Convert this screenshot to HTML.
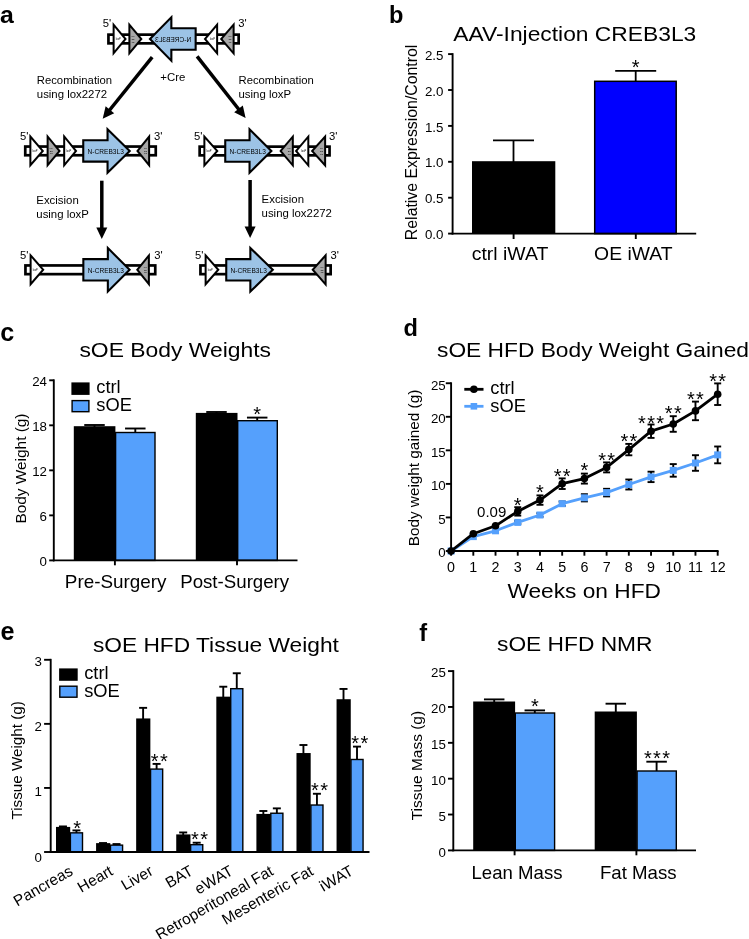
<!DOCTYPE html>
<html lang="en"><head><meta charset="utf-8"><title>Figure</title>
<style>html,body{margin:0;padding:0;background:#fff;}body{width:749px;height:939px;overflow:hidden;font-family:"Liberation Sans",sans-serif;}svg{display:block;will-change:transform;}text{font-family:"Liberation Sans",sans-serif;fill:#000;}</style>
</head><body>
<svg width="749" height="939" viewBox="0 0 749 939">
<rect x="0" y="0" width="749" height="939" fill="#fff"/>
<g id="panel-a">
<text x="0.0" y="22.8" font-size="24.8" text-anchor="start" font-weight="bold">a</text>
<rect x="108.45" y="34.65" width="130.20" height="8.70" fill="#fff" stroke="#000" stroke-width="2.7"/>
<polygon points="112.60,21.90 126.80,39.00 112.60,56.10" fill="#000"/>
<polygon points="114.60,27.44 124.20,39.00 114.60,50.56" fill="#fff"/>
<text x="118.20" y="39.90" font-size="2.6" text-anchor="middle" fill="#333">loxP</text>
<polygon points="128.40,21.90 142.60,39.00 128.40,56.10" fill="#000"/>
<polygon points="130.40,27.44 140.00,39.00 130.40,50.56" fill="#A8A8A8"/>
<g transform="translate(133.00,39.00)" fill="#3a3a3a" font-size="2.5" text-anchor="middle"><text x="0" y="-1.9">lox</text><text x="0" y="0.8">22</text><text x="0" y="3.5">72</text></g>
<polygon points="196.70,27.25 172.40,27.25 172.40,14.75 148.50,39.00 172.40,63.25 172.40,50.75 196.70,50.75" fill="#000"/>
<polygon points="194.60,29.35 170.30,29.35 170.30,19.87 151.45,39.00 170.30,58.13 170.30,48.65 194.60,48.65" fill="#9CC3E6"/>
<text transform="translate(173.20,42.00) scale(-1,1)" font-size="7" text-anchor="middle" textLength="36.2" lengthAdjust="spacingAndGlyphs" fill="#1c2e44">N-CREB3L3</text>
<polygon points="218.10,21.90 203.70,39.00 218.10,56.10" fill="#000"/>
<polygon points="216.10,27.38 206.31,39.00 216.10,50.62" fill="#fff"/>
<text x="212.50" y="39.90" font-size="2.6" text-anchor="middle" fill="#333">loxP</text>
<polygon points="234.60,21.90 219.90,39.00 234.60,56.10" fill="#000"/>
<polygon points="232.60,27.29 222.54,39.00 232.60,50.71" fill="#A8A8A8"/>
<g transform="translate(230.00,39.00)" fill="#3a3a3a" font-size="2.5" text-anchor="middle"><text x="0" y="-1.9">lox</text><text x="0" y="0.8">22</text><text x="0" y="3.5">72</text></g>
<text x="102.8" y="27.2" font-size="10.3" text-anchor="start" textLength="8.4" lengthAdjust="spacingAndGlyphs">5'</text>
<text x="238.2" y="27.2" font-size="10.3" text-anchor="start" textLength="8.4" lengthAdjust="spacingAndGlyphs">3'</text>
<rect x="25.25" y="146.55" width="130.50" height="8.70" fill="#fff" stroke="#000" stroke-width="2.7"/>
<polygon points="29.35,133.80 44.10,150.90 29.35,168.00" fill="#000"/>
<polygon points="31.35,139.18 41.46,150.90 31.35,162.62" fill="#fff"/>
<text x="34.95" y="151.80" font-size="2.6" text-anchor="middle" fill="#333">loxP</text>
<polygon points="46.60,133.80 60.80,150.90 46.60,168.00" fill="#000"/>
<polygon points="48.60,139.34 58.20,150.90 48.60,162.46" fill="#A8A8A8"/>
<g transform="translate(51.20,150.90)" fill="#3a3a3a" font-size="2.5" text-anchor="middle"><text x="0" y="-1.9">lox</text><text x="0" y="0.8">22</text><text x="0" y="3.5">72</text></g>
<polygon points="63.20,133.80 77.30,150.90 63.20,168.00" fill="#000"/>
<polygon points="65.20,139.37 74.71,150.90 65.20,162.43" fill="#fff"/>
<text x="68.80" y="151.80" font-size="2.6" text-anchor="middle" fill="#333">loxP</text>
<polygon points="82.20,139.15 106.50,139.15 106.50,126.65 131.20,150.90 106.50,175.15 106.50,162.65 82.20,162.65" fill="#000"/>
<polygon points="84.30,141.25 108.60,141.25 108.60,131.65 128.20,150.90 108.60,170.15 108.60,160.55 84.30,160.55" fill="#9CC3E6"/>
<text x="105.70" y="153.90" font-size="7" text-anchor="middle" textLength="36.2" lengthAdjust="spacingAndGlyphs" fill="#1c2e44">N-CREB3L3</text>
<polygon points="150.10,133.80 136.20,150.90 150.10,168.00" fill="#000"/>
<polygon points="148.10,139.43 138.78,150.90 148.10,162.37" fill="#A8A8A8"/>
<g transform="translate(145.50,150.90)" fill="#3a3a3a" font-size="2.5" text-anchor="middle"><text x="0" y="-1.9">lox</text><text x="0" y="0.8">22</text><text x="0" y="3.5">72</text></g>
<text x="20.0" y="139.8" font-size="10.3" text-anchor="start" textLength="8.4" lengthAdjust="spacingAndGlyphs">5'</text>
<text x="154.1" y="139.8" font-size="10.3" text-anchor="start" textLength="8.4" lengthAdjust="spacingAndGlyphs">3'</text>
<rect x="199.65" y="146.65" width="129.90" height="8.70" fill="#fff" stroke="#000" stroke-width="2.7"/>
<polygon points="203.40,133.90 218.60,151.00 203.40,168.10" fill="#000"/>
<polygon points="205.40,139.16 215.92,151.00 205.40,162.84" fill="#fff"/>
<text x="209.00" y="151.90" font-size="2.6" text-anchor="middle" fill="#333">loxP</text>
<polygon points="224.20,139.25 248.50,139.25 248.50,126.75 272.90,151.00 248.50,175.25 248.50,162.75 224.20,162.75" fill="#000"/>
<polygon points="226.30,141.35 250.60,141.35 250.60,131.80 269.92,151.00 250.60,170.20 250.60,160.65 226.30,160.65" fill="#9CC3E6"/>
<text x="247.70" y="154.00" font-size="7" text-anchor="middle" textLength="36.2" lengthAdjust="spacingAndGlyphs" fill="#1c2e44">N-CREB3L3</text>
<polygon points="293.80,133.90 279.30,151.00 293.80,168.10" fill="#000"/>
<polygon points="291.80,139.35 281.92,151.00 291.80,162.65" fill="#A8A8A8"/>
<g transform="translate(289.20,151.00)" fill="#3a3a3a" font-size="2.5" text-anchor="middle"><text x="0" y="-1.9">lox</text><text x="0" y="0.8">22</text><text x="0" y="3.5">72</text></g>
<polygon points="309.30,133.90 294.80,151.00 309.30,168.10" fill="#000"/>
<polygon points="307.30,139.35 297.42,151.00 307.30,162.65" fill="#fff"/>
<text x="303.70" y="151.90" font-size="2.6" text-anchor="middle" fill="#333">loxP</text>
<polygon points="326.10,133.90 310.80,151.00 326.10,168.10" fill="#000"/>
<polygon points="324.10,139.13 313.48,151.00 324.10,162.87" fill="#A8A8A8"/>
<g transform="translate(321.50,151.00)" fill="#3a3a3a" font-size="2.5" text-anchor="middle"><text x="0" y="-1.9">lox</text><text x="0" y="0.8">22</text><text x="0" y="3.5">72</text></g>
<text x="193.9" y="139.8" font-size="10.3" text-anchor="start" textLength="8.4" lengthAdjust="spacingAndGlyphs">5'</text>
<text x="329.1" y="139.8" font-size="10.3" text-anchor="start" textLength="8.4" lengthAdjust="spacingAndGlyphs">3'</text>
<rect x="25.45" y="265.45" width="129.80" height="8.70" fill="#fff" stroke="#000" stroke-width="2.7"/>
<polygon points="29.60,252.70 44.50,269.80 29.60,286.90" fill="#000"/>
<polygon points="31.60,258.04 41.85,269.80 31.60,281.56" fill="#fff"/>
<text x="35.20" y="270.70" font-size="2.6" text-anchor="middle" fill="#333">loxP</text>
<polygon points="82.30,258.05 106.80,258.05 106.80,245.55 131.10,269.80 106.80,294.05 106.80,281.55 82.30,281.55" fill="#000"/>
<polygon points="84.40,260.15 108.90,260.15 108.90,250.61 128.13,269.80 108.90,288.99 108.90,279.45 84.40,279.45" fill="#9CC3E6"/>
<text x="105.80" y="272.80" font-size="7" text-anchor="middle" textLength="36.2" lengthAdjust="spacingAndGlyphs" fill="#1c2e44">N-CREB3L3</text>
<polygon points="149.90,252.70 136.00,269.80 149.90,286.90" fill="#000"/>
<polygon points="147.90,258.33 138.58,269.80 147.90,281.27" fill="#A8A8A8"/>
<g transform="translate(145.30,269.80)" fill="#3a3a3a" font-size="2.5" text-anchor="middle"><text x="0" y="-1.9">lox</text><text x="0" y="0.8">22</text><text x="0" y="3.5">72</text></g>
<text x="19.9" y="258.8" font-size="10.3" text-anchor="start" textLength="8.4" lengthAdjust="spacingAndGlyphs">5'</text>
<text x="154.2" y="258.8" font-size="10.3" text-anchor="start" textLength="8.4" lengthAdjust="spacingAndGlyphs">3'</text>
<rect x="200.45" y="265.45" width="130.20" height="8.70" fill="#fff" stroke="#000" stroke-width="2.7"/>
<polygon points="204.60,252.70 219.60,269.80 204.60,286.90" fill="#000"/>
<polygon points="206.60,258.01 216.94,269.80 206.60,281.59" fill="#fff"/>
<text x="210.20" y="270.70" font-size="2.6" text-anchor="middle" fill="#333">loxP</text>
<polygon points="225.20,258.05 249.30,258.05 249.30,245.55 274.30,269.80 249.30,294.05 249.30,281.55 225.20,281.55" fill="#000"/>
<polygon points="227.30,260.15 251.40,260.15 251.40,250.51 271.28,269.80 251.40,289.09 251.40,279.45 227.30,279.45" fill="#9CC3E6"/>
<text x="248.70" y="272.80" font-size="7" text-anchor="middle" textLength="36.2" lengthAdjust="spacingAndGlyphs" fill="#1c2e44">N-CREB3L3</text>
<polygon points="326.60,252.70 311.40,269.80 326.60,286.90" fill="#000"/>
<polygon points="324.60,257.96 314.08,269.80 324.60,281.64" fill="#A8A8A8"/>
<g transform="translate(322.00,269.80)" fill="#3a3a3a" font-size="2.5" text-anchor="middle"><text x="0" y="-1.9">lox</text><text x="0" y="0.8">22</text><text x="0" y="3.5">72</text></g>
<text x="194.9" y="258.8" font-size="10.3" text-anchor="start" textLength="8.4" lengthAdjust="spacingAndGlyphs">5'</text>
<text x="330.4" y="258.8" font-size="10.3" text-anchor="start" textLength="8.4" lengthAdjust="spacingAndGlyphs">3'</text>
<line x1="152.20" y1="57.10" x2="109.28" y2="110.52" stroke="#000" stroke-width="3.5" stroke-linecap="butt"/>
<polygon points="102.70,118.70 105.62,106.29 114.19,113.18" fill="#000"/>
<line x1="197.10" y1="56.30" x2="239.11" y2="109.75" stroke="#000" stroke-width="3.5" stroke-linecap="butt"/>
<polygon points="245.60,118.00 234.17,112.36 242.82,105.56" fill="#000"/>
<line x1="101.80" y1="180.70" x2="101.80" y2="228.40" stroke="#000" stroke-width="3.5" stroke-linecap="butt"/>
<polygon points="101.80,238.90 96.30,227.40 107.30,227.40" fill="#000"/>
<line x1="250.10" y1="180.00" x2="250.10" y2="227.50" stroke="#000" stroke-width="3.5" stroke-linecap="butt"/>
<polygon points="250.10,238.00 244.60,226.50 255.60,226.50" fill="#000"/>
<text x="36.8" y="84.2" font-size="11.4" text-anchor="start" textLength="75.3" lengthAdjust="spacingAndGlyphs">Recombination</text>
<text x="36.8" y="98.1" font-size="11.4" text-anchor="start">using lox2272</text>
<text x="160.3" y="80.5" font-size="11.4" text-anchor="start">+Cre</text>
<text x="238.5" y="84.2" font-size="11.4" text-anchor="start" textLength="75.3" lengthAdjust="spacingAndGlyphs">Recombination</text>
<text x="238.5" y="98.1" font-size="11.4" text-anchor="start">using loxP</text>
<text x="36.3" y="203.7" font-size="11.4" text-anchor="start">Excision</text>
<text x="36.3" y="217.6" font-size="11.4" text-anchor="start">using loxP</text>
<text x="261.6" y="203.2" font-size="11.4" text-anchor="start">Excision</text>
<text x="261.6" y="217.1" font-size="11.4" text-anchor="start">using lox2272</text>
</g>
<g id="panel-b">
<text x="388.9" y="22.7" font-size="23.6" text-anchor="start" font-weight="bold">b</text>
<text x="453.3" y="40.8" font-size="21" text-anchor="start" textLength="243" lengthAdjust="spacingAndGlyphs">AAV-Injection CREB3L3</text>
<rect x="472.00" y="161.20" width="83.30" height="72.40" fill="#000"/>
<rect x="594.70" y="81.30" width="81.50" height="152.30" fill="#0000FF" stroke="#000" stroke-width="1.5"/>
<line x1="513.5" y1="140.4" x2="513.5" y2="162" stroke="#000" stroke-width="1.8" stroke-linecap="butt"/>
<line x1="493.0" y1="140.4" x2="534.0" y2="140.4" stroke="#000" stroke-width="1.8" stroke-linecap="butt"/>
<line x1="635.7" y1="70.8" x2="635.7" y2="81" stroke="#000" stroke-width="1.8" stroke-linecap="butt"/>
<line x1="615.2" y1="70.8" x2="656.2" y2="70.8" stroke="#000" stroke-width="1.8" stroke-linecap="butt"/>
<line x1="452.6" y1="53.15" x2="452.6" y2="234.54999999999998" stroke="#000" stroke-width="1.9" stroke-linecap="butt"/>
<line x1="448.1" y1="233.6" x2="452.6" y2="233.6" stroke="#000" stroke-width="1.9" stroke-linecap="butt"/>
<text x="443.40" y="238.96" font-size="13.3" text-anchor="end">0.0</text>
<line x1="448.1" y1="197.7" x2="452.6" y2="197.7" stroke="#000" stroke-width="1.9" stroke-linecap="butt"/>
<text x="443.40" y="203.16" font-size="13.3" text-anchor="end">0.5</text>
<line x1="448.1" y1="161.8" x2="452.6" y2="161.8" stroke="#000" stroke-width="1.9" stroke-linecap="butt"/>
<text x="443.40" y="167.36" font-size="13.3" text-anchor="end">1.0</text>
<line x1="448.1" y1="125.89999999999999" x2="452.6" y2="125.89999999999999" stroke="#000" stroke-width="1.9" stroke-linecap="butt"/>
<text x="443.40" y="131.56" font-size="13.3" text-anchor="end">1.5</text>
<line x1="448.1" y1="90.0" x2="452.6" y2="90.0" stroke="#000" stroke-width="1.9" stroke-linecap="butt"/>
<text x="443.40" y="95.76" font-size="13.3" text-anchor="end">2.0</text>
<line x1="448.1" y1="54.099999999999994" x2="452.6" y2="54.099999999999994" stroke="#000" stroke-width="1.9" stroke-linecap="butt"/>
<text x="443.40" y="59.66" font-size="13.3" text-anchor="end">2.5</text>
<line x1="513.6" y1="233.6" x2="513.6" y2="239.0" stroke="#000" stroke-width="1.9" stroke-linecap="butt"/>
<line x1="635.8" y1="233.6" x2="635.8" y2="239.0" stroke="#000" stroke-width="1.9" stroke-linecap="butt"/>
<line x1="451.70000000000005" y1="233.6" x2="696.2" y2="233.6" stroke="#000" stroke-width="1.8" stroke-linecap="butt"/>
<text x="635.70" y="73.75" font-size="20.0" text-anchor="middle">*</text>
<text x="510.0" y="259.5" font-size="18.1" text-anchor="middle" textLength="76.6" lengthAdjust="spacingAndGlyphs">ctrl iWAT</text>
<text x="633.3" y="259.5" font-size="18.1" text-anchor="middle" textLength="78.4" lengthAdjust="spacingAndGlyphs">OE iWAT</text>
<text transform="translate(416.8,142.4) rotate(-90)" font-size="15.6" text-anchor="middle" textLength="195.5" lengthAdjust="spacingAndGlyphs">Relative Expression/Control</text>
</g>
<g id="panel-c">
<text x="0.3" y="340.8" font-size="25.2" text-anchor="start" font-weight="bold">c</text>
<text x="79.4" y="356.5" font-size="21" text-anchor="start" textLength="191.6" lengthAdjust="spacingAndGlyphs">sOE Body Weights</text>
<rect x="73.80" y="426.20" width="41.60" height="134.20" fill="#000"/>
<rect x="115.60" y="432.50" width="39.40" height="127.90" fill="#55A0FC" stroke="#000" stroke-width="1.4"/>
<rect x="195.80" y="412.90" width="41.70" height="147.50" fill="#000"/>
<rect x="237.70" y="420.70" width="39.60" height="139.70" fill="#55A0FC" stroke="#000" stroke-width="1.4"/>
<line x1="94.5" y1="425.0" x2="94.5" y2="427" stroke="#000" stroke-width="1.9" stroke-linecap="butt"/>
<line x1="84.25" y1="425.0" x2="104.75" y2="425.0" stroke="#000" stroke-width="1.9" stroke-linecap="butt"/>
<line x1="135.3" y1="428.5" x2="135.3" y2="432" stroke="#000" stroke-width="1.9" stroke-linecap="butt"/>
<line x1="125.05000000000001" y1="428.5" x2="145.55" y2="428.5" stroke="#000" stroke-width="1.9" stroke-linecap="butt"/>
<line x1="216.5" y1="412.0" x2="216.5" y2="414" stroke="#000" stroke-width="1.9" stroke-linecap="butt"/>
<line x1="206.25" y1="412.0" x2="226.75" y2="412.0" stroke="#000" stroke-width="1.9" stroke-linecap="butt"/>
<line x1="257.2" y1="417.6" x2="257.2" y2="420.5" stroke="#000" stroke-width="1.9" stroke-linecap="butt"/>
<line x1="246.95" y1="417.6" x2="267.45" y2="417.6" stroke="#000" stroke-width="1.9" stroke-linecap="butt"/>
<line x1="53.8" y1="379.35" x2="53.8" y2="561.35" stroke="#000" stroke-width="1.9" stroke-linecap="butt"/>
<line x1="49.199999999999996" y1="560.4" x2="53.8" y2="560.4" stroke="#000" stroke-width="1.9" stroke-linecap="butt"/>
<text x="47.00" y="566.16" font-size="13.3" text-anchor="end">0</text>
<line x1="49.199999999999996" y1="515.375" x2="53.8" y2="515.375" stroke="#000" stroke-width="1.9" stroke-linecap="butt"/>
<text x="47.00" y="521.14" font-size="13.3" text-anchor="end">6</text>
<line x1="49.199999999999996" y1="470.35" x2="53.8" y2="470.35" stroke="#000" stroke-width="1.9" stroke-linecap="butt"/>
<text x="47.00" y="476.11" font-size="13.3" text-anchor="end">12</text>
<line x1="49.199999999999996" y1="425.325" x2="53.8" y2="425.325" stroke="#000" stroke-width="1.9" stroke-linecap="butt"/>
<text x="47.00" y="431.09" font-size="13.3" text-anchor="end">18</text>
<line x1="49.199999999999996" y1="380.3" x2="53.8" y2="380.3" stroke="#000" stroke-width="1.9" stroke-linecap="butt"/>
<text x="47.00" y="386.06" font-size="13.3" text-anchor="end">24</text>
<line x1="52.9" y1="560.4" x2="297.5" y2="560.4" stroke="#000" stroke-width="1.8" stroke-linecap="butt"/>
<line x1="114.9" y1="560.4" x2="114.9" y2="565.3" stroke="#000" stroke-width="1.9" stroke-linecap="butt"/>
<line x1="237.0" y1="560.4" x2="237.0" y2="565.3" stroke="#000" stroke-width="1.9" stroke-linecap="butt"/>
<rect x="71.40" y="382.40" width="18.20" height="12.50" fill="#000"/>
<rect x="72.10" y="400.60" width="16.80" height="11.10" fill="#55A0FC" stroke="#000" stroke-width="1.4"/>
<text x="96.3" y="393.1" font-size="18.3" text-anchor="start">ctrl</text>
<text x="96.3" y="411.3" font-size="18.3" text-anchor="start">sOE</text>
<text x="257.20" y="420.75" font-size="20.0" text-anchor="middle">*</text>
<text x="115.7" y="587.6" font-size="17.8" text-anchor="middle" textLength="101.7" lengthAdjust="spacingAndGlyphs">Pre-Surgery</text>
<text x="234.7" y="587.6" font-size="17.8" text-anchor="middle" textLength="109" lengthAdjust="spacingAndGlyphs">Post-Surgery</text>
<text transform="translate(25.8,468.5) rotate(-90)" font-size="15.3" text-anchor="middle" textLength="110" lengthAdjust="spacingAndGlyphs">Body Weight (g)</text>
</g>
<g id="panel-d">
<text x="403.6" y="336.3" font-size="23.6" text-anchor="start" font-weight="bold">d</text>
<text x="437.0" y="357.0" font-size="21" text-anchor="start" textLength="312" lengthAdjust="spacingAndGlyphs">sOE HFD Body Weight Gained</text>
<line x1="517.745" y1="520.9" x2="517.745" y2="522.4" stroke="#000" stroke-width="1.9" stroke-linecap="butt"/>
<line x1="514.245" y1="520.9" x2="521.245" y2="520.9" stroke="#000" stroke-width="1.9" stroke-linecap="butt"/>
<line x1="517.745" y1="522.4" x2="517.745" y2="523.9" stroke="#000" stroke-width="1.9" stroke-linecap="butt"/>
<line x1="514.245" y1="523.9" x2="521.245" y2="523.9" stroke="#000" stroke-width="1.9" stroke-linecap="butt"/>
<line x1="539.96" y1="513.2" x2="539.96" y2="515.0" stroke="#000" stroke-width="1.9" stroke-linecap="butt"/>
<line x1="536.46" y1="513.2" x2="543.46" y2="513.2" stroke="#000" stroke-width="1.9" stroke-linecap="butt"/>
<line x1="539.96" y1="515.0" x2="539.96" y2="516.8" stroke="#000" stroke-width="1.9" stroke-linecap="butt"/>
<line x1="536.46" y1="516.8" x2="543.46" y2="516.8" stroke="#000" stroke-width="1.9" stroke-linecap="butt"/>
<line x1="562.1750000000001" y1="501.5" x2="562.1750000000001" y2="503.7" stroke="#000" stroke-width="1.9" stroke-linecap="butt"/>
<line x1="558.6750000000001" y1="501.5" x2="565.6750000000001" y2="501.5" stroke="#000" stroke-width="1.9" stroke-linecap="butt"/>
<line x1="562.1750000000001" y1="503.7" x2="562.1750000000001" y2="505.9" stroke="#000" stroke-width="1.9" stroke-linecap="butt"/>
<line x1="558.6750000000001" y1="505.9" x2="565.6750000000001" y2="505.9" stroke="#000" stroke-width="1.9" stroke-linecap="butt"/>
<line x1="584.39" y1="494.2" x2="584.39" y2="497.8" stroke="#000" stroke-width="1.9" stroke-linecap="butt"/>
<line x1="580.89" y1="494.2" x2="587.89" y2="494.2" stroke="#000" stroke-width="1.9" stroke-linecap="butt"/>
<line x1="584.39" y1="497.8" x2="584.39" y2="501.40000000000003" stroke="#000" stroke-width="1.9" stroke-linecap="butt"/>
<line x1="580.89" y1="501.40000000000003" x2="587.89" y2="501.40000000000003" stroke="#000" stroke-width="1.9" stroke-linecap="butt"/>
<line x1="606.605" y1="488.8" x2="606.605" y2="492.6" stroke="#000" stroke-width="1.9" stroke-linecap="butt"/>
<line x1="603.105" y1="488.8" x2="610.105" y2="488.8" stroke="#000" stroke-width="1.9" stroke-linecap="butt"/>
<line x1="606.605" y1="492.6" x2="606.605" y2="496.40000000000003" stroke="#000" stroke-width="1.9" stroke-linecap="butt"/>
<line x1="603.105" y1="496.40000000000003" x2="610.105" y2="496.40000000000003" stroke="#000" stroke-width="1.9" stroke-linecap="butt"/>
<line x1="628.82" y1="479.5" x2="628.82" y2="484.5" stroke="#000" stroke-width="1.9" stroke-linecap="butt"/>
<line x1="625.32" y1="479.5" x2="632.32" y2="479.5" stroke="#000" stroke-width="1.9" stroke-linecap="butt"/>
<line x1="628.82" y1="484.5" x2="628.82" y2="489.5" stroke="#000" stroke-width="1.9" stroke-linecap="butt"/>
<line x1="625.32" y1="489.5" x2="632.32" y2="489.5" stroke="#000" stroke-width="1.9" stroke-linecap="butt"/>
<line x1="651.0350000000001" y1="471.7" x2="651.0350000000001" y2="476.9" stroke="#000" stroke-width="1.9" stroke-linecap="butt"/>
<line x1="647.5350000000001" y1="471.7" x2="654.5350000000001" y2="471.7" stroke="#000" stroke-width="1.9" stroke-linecap="butt"/>
<line x1="651.0350000000001" y1="476.9" x2="651.0350000000001" y2="482.09999999999997" stroke="#000" stroke-width="1.9" stroke-linecap="butt"/>
<line x1="647.5350000000001" y1="482.09999999999997" x2="654.5350000000001" y2="482.09999999999997" stroke="#000" stroke-width="1.9" stroke-linecap="butt"/>
<line x1="673.25" y1="464.09999999999997" x2="673.25" y2="470.4" stroke="#000" stroke-width="1.9" stroke-linecap="butt"/>
<line x1="669.75" y1="464.09999999999997" x2="676.75" y2="464.09999999999997" stroke="#000" stroke-width="1.9" stroke-linecap="butt"/>
<line x1="673.25" y1="470.4" x2="673.25" y2="476.7" stroke="#000" stroke-width="1.9" stroke-linecap="butt"/>
<line x1="669.75" y1="476.7" x2="676.75" y2="476.7" stroke="#000" stroke-width="1.9" stroke-linecap="butt"/>
<line x1="695.465" y1="455.2" x2="695.465" y2="463.0" stroke="#000" stroke-width="1.9" stroke-linecap="butt"/>
<line x1="691.965" y1="455.2" x2="698.965" y2="455.2" stroke="#000" stroke-width="1.9" stroke-linecap="butt"/>
<line x1="695.465" y1="463.0" x2="695.465" y2="470.8" stroke="#000" stroke-width="1.9" stroke-linecap="butt"/>
<line x1="691.965" y1="470.8" x2="698.965" y2="470.8" stroke="#000" stroke-width="1.9" stroke-linecap="butt"/>
<line x1="717.6800000000001" y1="446.5" x2="717.6800000000001" y2="454.9" stroke="#000" stroke-width="1.9" stroke-linecap="butt"/>
<line x1="714.1800000000001" y1="446.5" x2="721.1800000000001" y2="446.5" stroke="#000" stroke-width="1.9" stroke-linecap="butt"/>
<line x1="717.6800000000001" y1="454.9" x2="717.6800000000001" y2="463.29999999999995" stroke="#000" stroke-width="1.9" stroke-linecap="butt"/>
<line x1="714.1800000000001" y1="463.29999999999995" x2="721.1800000000001" y2="463.29999999999995" stroke="#000" stroke-width="1.9" stroke-linecap="butt"/>
<polyline points="451.10,551.00 473.31,536.60 495.53,530.80 517.75,522.40 539.96,515.00 562.18,503.70 584.39,497.80 606.61,492.60 628.82,484.50 651.04,476.90 673.25,470.40 695.47,463.00 717.68,454.90" fill="none" stroke="#55A0FC" stroke-width="2.8" stroke-linejoin="round"/>
<rect x="447.60" y="547.50" width="7.00" height="7.00" fill="#55A0FC"/>
<rect x="469.81" y="533.10" width="7.00" height="7.00" fill="#55A0FC"/>
<rect x="492.03" y="527.30" width="7.00" height="7.00" fill="#55A0FC"/>
<rect x="514.25" y="518.90" width="7.00" height="7.00" fill="#55A0FC"/>
<rect x="536.46" y="511.50" width="7.00" height="7.00" fill="#55A0FC"/>
<rect x="558.68" y="500.20" width="7.00" height="7.00" fill="#55A0FC"/>
<rect x="580.89" y="494.30" width="7.00" height="7.00" fill="#55A0FC"/>
<rect x="603.11" y="489.10" width="7.00" height="7.00" fill="#55A0FC"/>
<rect x="625.32" y="481.00" width="7.00" height="7.00" fill="#55A0FC"/>
<rect x="647.54" y="473.40" width="7.00" height="7.00" fill="#55A0FC"/>
<rect x="669.75" y="466.90" width="7.00" height="7.00" fill="#55A0FC"/>
<rect x="691.97" y="459.50" width="7.00" height="7.00" fill="#55A0FC"/>
<rect x="714.18" y="451.40" width="7.00" height="7.00" fill="#55A0FC"/>
<line x1="517.745" y1="507.2" x2="517.745" y2="511.4" stroke="#000" stroke-width="1.9" stroke-linecap="butt"/>
<line x1="514.245" y1="507.2" x2="521.245" y2="507.2" stroke="#000" stroke-width="1.9" stroke-linecap="butt"/>
<line x1="517.745" y1="511.4" x2="517.745" y2="515.6" stroke="#000" stroke-width="1.9" stroke-linecap="butt"/>
<line x1="514.245" y1="515.6" x2="521.245" y2="515.6" stroke="#000" stroke-width="1.9" stroke-linecap="butt"/>
<line x1="539.96" y1="495.40000000000003" x2="539.96" y2="500.1" stroke="#000" stroke-width="1.9" stroke-linecap="butt"/>
<line x1="536.46" y1="495.40000000000003" x2="543.46" y2="495.40000000000003" stroke="#000" stroke-width="1.9" stroke-linecap="butt"/>
<line x1="539.96" y1="500.1" x2="539.96" y2="504.8" stroke="#000" stroke-width="1.9" stroke-linecap="butt"/>
<line x1="536.46" y1="504.8" x2="543.46" y2="504.8" stroke="#000" stroke-width="1.9" stroke-linecap="butt"/>
<line x1="562.1750000000001" y1="478.4" x2="562.1750000000001" y2="483.7" stroke="#000" stroke-width="1.9" stroke-linecap="butt"/>
<line x1="558.6750000000001" y1="478.4" x2="565.6750000000001" y2="478.4" stroke="#000" stroke-width="1.9" stroke-linecap="butt"/>
<line x1="562.1750000000001" y1="483.7" x2="562.1750000000001" y2="489.0" stroke="#000" stroke-width="1.9" stroke-linecap="butt"/>
<line x1="558.6750000000001" y1="489.0" x2="565.6750000000001" y2="489.0" stroke="#000" stroke-width="1.9" stroke-linecap="butt"/>
<line x1="584.39" y1="473.6" x2="584.39" y2="478.6" stroke="#000" stroke-width="1.9" stroke-linecap="butt"/>
<line x1="580.89" y1="473.6" x2="587.89" y2="473.6" stroke="#000" stroke-width="1.9" stroke-linecap="butt"/>
<line x1="584.39" y1="478.6" x2="584.39" y2="483.6" stroke="#000" stroke-width="1.9" stroke-linecap="butt"/>
<line x1="580.89" y1="483.6" x2="587.89" y2="483.6" stroke="#000" stroke-width="1.9" stroke-linecap="butt"/>
<line x1="606.605" y1="462.4" x2="606.605" y2="467.4" stroke="#000" stroke-width="1.9" stroke-linecap="butt"/>
<line x1="603.105" y1="462.4" x2="610.105" y2="462.4" stroke="#000" stroke-width="1.9" stroke-linecap="butt"/>
<line x1="606.605" y1="467.4" x2="606.605" y2="472.4" stroke="#000" stroke-width="1.9" stroke-linecap="butt"/>
<line x1="603.105" y1="472.4" x2="610.105" y2="472.4" stroke="#000" stroke-width="1.9" stroke-linecap="butt"/>
<line x1="628.82" y1="443.90000000000003" x2="628.82" y2="449.6" stroke="#000" stroke-width="1.9" stroke-linecap="butt"/>
<line x1="625.32" y1="443.90000000000003" x2="632.32" y2="443.90000000000003" stroke="#000" stroke-width="1.9" stroke-linecap="butt"/>
<line x1="628.82" y1="449.6" x2="628.82" y2="455.3" stroke="#000" stroke-width="1.9" stroke-linecap="butt"/>
<line x1="625.32" y1="455.3" x2="632.32" y2="455.3" stroke="#000" stroke-width="1.9" stroke-linecap="butt"/>
<line x1="651.0350000000001" y1="424.5" x2="651.0350000000001" y2="431.2" stroke="#000" stroke-width="1.9" stroke-linecap="butt"/>
<line x1="647.5350000000001" y1="424.5" x2="654.5350000000001" y2="424.5" stroke="#000" stroke-width="1.9" stroke-linecap="butt"/>
<line x1="651.0350000000001" y1="431.2" x2="651.0350000000001" y2="437.9" stroke="#000" stroke-width="1.9" stroke-linecap="butt"/>
<line x1="647.5350000000001" y1="437.9" x2="654.5350000000001" y2="437.9" stroke="#000" stroke-width="1.9" stroke-linecap="butt"/>
<line x1="673.25" y1="416.2" x2="673.25" y2="424.0" stroke="#000" stroke-width="1.9" stroke-linecap="butt"/>
<line x1="669.75" y1="416.2" x2="676.75" y2="416.2" stroke="#000" stroke-width="1.9" stroke-linecap="butt"/>
<line x1="673.25" y1="424.0" x2="673.25" y2="431.8" stroke="#000" stroke-width="1.9" stroke-linecap="butt"/>
<line x1="669.75" y1="431.8" x2="676.75" y2="431.8" stroke="#000" stroke-width="1.9" stroke-linecap="butt"/>
<line x1="695.465" y1="401.59999999999997" x2="695.465" y2="410.9" stroke="#000" stroke-width="1.9" stroke-linecap="butt"/>
<line x1="691.965" y1="401.59999999999997" x2="698.965" y2="401.59999999999997" stroke="#000" stroke-width="1.9" stroke-linecap="butt"/>
<line x1="695.465" y1="410.9" x2="695.465" y2="420.2" stroke="#000" stroke-width="1.9" stroke-linecap="butt"/>
<line x1="691.965" y1="420.2" x2="698.965" y2="420.2" stroke="#000" stroke-width="1.9" stroke-linecap="butt"/>
<line x1="717.6800000000001" y1="383.4" x2="717.6800000000001" y2="394.2" stroke="#000" stroke-width="1.9" stroke-linecap="butt"/>
<line x1="714.1800000000001" y1="383.4" x2="721.1800000000001" y2="383.4" stroke="#000" stroke-width="1.9" stroke-linecap="butt"/>
<line x1="717.6800000000001" y1="394.2" x2="717.6800000000001" y2="405.0" stroke="#000" stroke-width="1.9" stroke-linecap="butt"/>
<line x1="714.1800000000001" y1="405.0" x2="721.1800000000001" y2="405.0" stroke="#000" stroke-width="1.9" stroke-linecap="butt"/>
<polyline points="451.10,551.00 473.31,533.70 495.53,525.80 517.75,511.40 539.96,500.10 562.18,483.70 584.39,478.60 606.61,467.40 628.82,449.60 651.04,431.20 673.25,424.00 695.47,410.90 717.68,394.20" fill="none" stroke="#000" stroke-width="2.8" stroke-linejoin="round"/>
<circle cx="451.10" cy="551.00" r="3.8" fill="#000"/>
<circle cx="473.31" cy="533.70" r="3.8" fill="#000"/>
<circle cx="495.53" cy="525.80" r="3.8" fill="#000"/>
<circle cx="517.75" cy="511.40" r="3.8" fill="#000"/>
<circle cx="539.96" cy="500.10" r="3.8" fill="#000"/>
<circle cx="562.18" cy="483.70" r="3.8" fill="#000"/>
<circle cx="584.39" cy="478.60" r="3.8" fill="#000"/>
<circle cx="606.61" cy="467.40" r="3.8" fill="#000"/>
<circle cx="628.82" cy="449.60" r="3.8" fill="#000"/>
<circle cx="651.04" cy="431.20" r="3.8" fill="#000"/>
<circle cx="673.25" cy="424.00" r="3.8" fill="#000"/>
<circle cx="695.47" cy="410.90" r="3.8" fill="#000"/>
<circle cx="717.68" cy="394.20" r="3.8" fill="#000"/>
<line x1="451.1" y1="382.3" x2="451.1" y2="551.95" stroke="#000" stroke-width="1.9" stroke-linecap="butt"/>
<line x1="445.8" y1="551.0" x2="451.1" y2="551.0" stroke="#000" stroke-width="1.9" stroke-linecap="butt"/>
<text x="445.70" y="557.26" font-size="13.3" text-anchor="end">0</text>
<line x1="445.8" y1="517.45" x2="451.1" y2="517.45" stroke="#000" stroke-width="1.9" stroke-linecap="butt"/>
<text x="445.70" y="523.71" font-size="13.3" text-anchor="end">5</text>
<line x1="445.8" y1="483.9" x2="451.1" y2="483.9" stroke="#000" stroke-width="1.9" stroke-linecap="butt"/>
<text x="445.70" y="490.16" font-size="13.3" text-anchor="end">10</text>
<line x1="445.8" y1="450.35" x2="451.1" y2="450.35" stroke="#000" stroke-width="1.9" stroke-linecap="butt"/>
<text x="445.70" y="456.61" font-size="13.3" text-anchor="end">15</text>
<line x1="445.8" y1="416.8" x2="451.1" y2="416.8" stroke="#000" stroke-width="1.9" stroke-linecap="butt"/>
<text x="445.70" y="423.06" font-size="13.3" text-anchor="end">20</text>
<line x1="445.8" y1="383.25" x2="451.1" y2="383.25" stroke="#000" stroke-width="1.9" stroke-linecap="butt"/>
<text x="445.70" y="389.51" font-size="13.3" text-anchor="end">25</text>
<line x1="450.20000000000005" y1="551.0" x2="718.58" y2="551.0" stroke="#000" stroke-width="1.8" stroke-linecap="butt"/>
<line x1="451.1" y1="551.0" x2="451.1" y2="555.7" stroke="#000" stroke-width="1.9" stroke-linecap="butt"/>
<text x="451.1" y="572.0" font-size="14.3" text-anchor="middle">0</text>
<line x1="473.315" y1="551.0" x2="473.315" y2="555.7" stroke="#000" stroke-width="1.9" stroke-linecap="butt"/>
<text x="473.315" y="572.0" font-size="14.3" text-anchor="middle">1</text>
<line x1="495.53000000000003" y1="551.0" x2="495.53000000000003" y2="555.7" stroke="#000" stroke-width="1.9" stroke-linecap="butt"/>
<text x="495.53000000000003" y="572.0" font-size="14.3" text-anchor="middle">2</text>
<line x1="517.745" y1="551.0" x2="517.745" y2="555.7" stroke="#000" stroke-width="1.9" stroke-linecap="butt"/>
<text x="517.745" y="572.0" font-size="14.3" text-anchor="middle">3</text>
<line x1="539.96" y1="551.0" x2="539.96" y2="555.7" stroke="#000" stroke-width="1.9" stroke-linecap="butt"/>
<text x="539.96" y="572.0" font-size="14.3" text-anchor="middle">4</text>
<line x1="562.1750000000001" y1="551.0" x2="562.1750000000001" y2="555.7" stroke="#000" stroke-width="1.9" stroke-linecap="butt"/>
<text x="562.1750000000001" y="572.0" font-size="14.3" text-anchor="middle">5</text>
<line x1="584.39" y1="551.0" x2="584.39" y2="555.7" stroke="#000" stroke-width="1.9" stroke-linecap="butt"/>
<text x="584.39" y="572.0" font-size="14.3" text-anchor="middle">6</text>
<line x1="606.605" y1="551.0" x2="606.605" y2="555.7" stroke="#000" stroke-width="1.9" stroke-linecap="butt"/>
<text x="606.605" y="572.0" font-size="14.3" text-anchor="middle">7</text>
<line x1="628.82" y1="551.0" x2="628.82" y2="555.7" stroke="#000" stroke-width="1.9" stroke-linecap="butt"/>
<text x="628.82" y="572.0" font-size="14.3" text-anchor="middle">8</text>
<line x1="651.0350000000001" y1="551.0" x2="651.0350000000001" y2="555.7" stroke="#000" stroke-width="1.9" stroke-linecap="butt"/>
<text x="651.0350000000001" y="572.0" font-size="14.3" text-anchor="middle">9</text>
<line x1="673.25" y1="551.0" x2="673.25" y2="555.7" stroke="#000" stroke-width="1.9" stroke-linecap="butt"/>
<text x="673.25" y="572.0" font-size="14.3" text-anchor="middle">10</text>
<line x1="695.465" y1="551.0" x2="695.465" y2="555.7" stroke="#000" stroke-width="1.9" stroke-linecap="butt"/>
<text x="695.465" y="572.0" font-size="14.3" text-anchor="middle">11</text>
<line x1="717.6800000000001" y1="551.0" x2="717.6800000000001" y2="555.7" stroke="#000" stroke-width="1.9" stroke-linecap="butt"/>
<text x="717.6800000000001" y="572.0" font-size="14.3" text-anchor="middle">12</text>
<line x1="464.3" y1="389.3" x2="483.5" y2="389.3" stroke="#000" stroke-width="2.8" stroke-linecap="butt"/>
<circle cx="473.9" cy="389.3" r="3.8" fill="#000"/>
<line x1="464.3" y1="406.3" x2="483.5" y2="406.3" stroke="#55A0FC" stroke-width="2.8" stroke-linecap="butt"/>
<rect x="470.60" y="403.00" width="6.60" height="6.60" fill="#55A0FC"/>
<text x="490.3" y="394.2" font-size="18.3" text-anchor="start">ctrl</text>
<text x="490.3" y="412.0" font-size="18.3" text-anchor="start">sOE</text>
<text x="517.75" y="512.45" font-size="20.0" text-anchor="middle">*</text>
<text x="539.96" y="499.15" font-size="20.0" text-anchor="middle">*</text>
<text x="557.64" y="483.25" font-size="20.0" text-anchor="middle">*</text>
<text x="566.72" y="483.25" font-size="20.0" text-anchor="middle">*</text>
<text x="584.39" y="477.35" font-size="20.0" text-anchor="middle">*</text>
<text x="602.07" y="467.05" font-size="20.0" text-anchor="middle">*</text>
<text x="611.15" y="467.05" font-size="20.0" text-anchor="middle">*</text>
<text x="624.28" y="447.95" font-size="20.0" text-anchor="middle">*</text>
<text x="633.36" y="447.95" font-size="20.0" text-anchor="middle">*</text>
<text x="641.96" y="430.05" font-size="20.0" text-anchor="middle">*</text>
<text x="651.04" y="430.05" font-size="20.0" text-anchor="middle">*</text>
<text x="660.12" y="430.05" font-size="20.0" text-anchor="middle">*</text>
<text x="668.71" y="419.95" font-size="20.0" text-anchor="middle">*</text>
<text x="677.79" y="419.95" font-size="20.0" text-anchor="middle">*</text>
<text x="690.93" y="406.15" font-size="20.0" text-anchor="middle">*</text>
<text x="700.01" y="406.15" font-size="20.0" text-anchor="middle">*</text>
<text x="713.14" y="387.65" font-size="20.0" text-anchor="middle">*</text>
<text x="722.22" y="387.65" font-size="20.0" text-anchor="middle">*</text>
<text x="491.7" y="517.2" font-size="15" text-anchor="middle">0.09</text>
<text x="584.2" y="598.0" font-size="20" text-anchor="middle" textLength="153.5" lengthAdjust="spacingAndGlyphs">Weeks on HFD</text>
<text transform="translate(419.0,468.0) rotate(-90)" font-size="14.6" text-anchor="middle" textLength="156.6" lengthAdjust="spacingAndGlyphs">Body weight gained (g)</text>
</g>
<g id="panel-e">
<text x="0.5" y="640.1" font-size="25.2" text-anchor="start" font-weight="bold">e</text>
<text x="92.9" y="651.6" font-size="21" text-anchor="start" textLength="246" lengthAdjust="spacingAndGlyphs">sOE HFD Tissue Weight</text>
<line x1="62.95" y1="826.4373999999999" x2="62.95" y2="828.2062" stroke="#000" stroke-width="1.9" stroke-linecap="butt"/>
<line x1="58.95" y1="826.4373999999999" x2="66.95" y2="826.4373999999999" stroke="#000" stroke-width="1.9" stroke-linecap="butt"/>
<line x1="76.45" y1="830.4095333333333" x2="76.45" y2="833.1393333333333" stroke="#000" stroke-width="1.9" stroke-linecap="butt"/>
<line x1="72.45" y1="830.4095333333333" x2="80.45" y2="830.4095333333333" stroke="#000" stroke-width="1.9" stroke-linecap="butt"/>
<rect x="56.00" y="826.91" width="14.20" height="25.09" fill="#000"/>
<rect x="70.40" y="832.84" width="12.10" height="19.16" fill="#55A0FC" stroke="#000" stroke-width="1.4"/>
<text transform="translate(74.00,874.00) rotate(-30)" font-size="15.5" text-anchor="end">Pancreas</text>
<line x1="103.03" y1="843.0306666666667" x2="103.03" y2="844.4150666666667" stroke="#000" stroke-width="1.9" stroke-linecap="butt"/>
<line x1="99.03" y1="843.0306666666667" x2="107.03" y2="843.0306666666667" stroke="#000" stroke-width="1.9" stroke-linecap="butt"/>
<line x1="116.53" y1="844.0557333333333" x2="116.53" y2="845.4401333333333" stroke="#000" stroke-width="1.9" stroke-linecap="butt"/>
<line x1="112.53" y1="844.0557333333333" x2="120.53" y2="844.0557333333333" stroke="#000" stroke-width="1.9" stroke-linecap="butt"/>
<rect x="96.08" y="843.12" width="14.20" height="8.88" fill="#000"/>
<rect x="110.48" y="845.14" width="12.10" height="6.86" fill="#55A0FC" stroke="#000" stroke-width="1.4"/>
<text transform="translate(114.08,874.00) rotate(-30)" font-size="15.5" text-anchor="end">Heart</text>
<line x1="143.11" y1="707.8499999999999" x2="143.11" y2="719.7413333333333" stroke="#000" stroke-width="1.9" stroke-linecap="butt"/>
<line x1="139.11" y1="707.8499999999999" x2="147.11" y2="707.8499999999999" stroke="#000" stroke-width="1.9" stroke-linecap="butt"/>
<line x1="156.61" y1="763.9083333333334" x2="156.61" y2="769.393" stroke="#000" stroke-width="1.9" stroke-linecap="butt"/>
<line x1="152.61" y1="763.9083333333334" x2="160.61" y2="763.9083333333334" stroke="#000" stroke-width="1.9" stroke-linecap="butt"/>
<rect x="136.16" y="718.44" width="14.20" height="133.56" fill="#000"/>
<rect x="150.56" y="769.09" width="12.10" height="82.91" fill="#55A0FC" stroke="#000" stroke-width="1.4"/>
<text transform="translate(154.16,874.00) rotate(-30)" font-size="15.5" text-anchor="end">Liver</text>
<line x1="183.19" y1="832.4596666666666" x2="183.19" y2="835.702" stroke="#000" stroke-width="1.9" stroke-linecap="butt"/>
<line x1="179.19" y1="832.4596666666666" x2="187.19" y2="832.4596666666666" stroke="#000" stroke-width="1.9" stroke-linecap="butt"/>
<line x1="196.69" y1="842.7103333333333" x2="196.69" y2="844.9916666666667" stroke="#000" stroke-width="1.9" stroke-linecap="butt"/>
<line x1="192.69" y1="842.7103333333333" x2="200.69" y2="842.7103333333333" stroke="#000" stroke-width="1.9" stroke-linecap="butt"/>
<rect x="176.24" y="834.40" width="14.20" height="17.60" fill="#000"/>
<rect x="190.64" y="844.69" width="12.10" height="7.31" fill="#55A0FC" stroke="#000" stroke-width="1.4"/>
<text transform="translate(194.24,874.00) rotate(-30)" font-size="15.5" text-anchor="end">BAT</text>
<line x1="223.26999999999998" y1="686.708" x2="223.26999999999998" y2="697.9586666666667" stroke="#000" stroke-width="1.9" stroke-linecap="butt"/>
<line x1="219.26999999999998" y1="686.708" x2="227.26999999999998" y2="686.708" stroke="#000" stroke-width="1.9" stroke-linecap="butt"/>
<line x1="236.76999999999998" y1="673.254" x2="236.76999999999998" y2="688.9893333333333" stroke="#000" stroke-width="1.9" stroke-linecap="butt"/>
<line x1="232.76999999999998" y1="673.254" x2="240.76999999999998" y2="673.254" stroke="#000" stroke-width="1.9" stroke-linecap="butt"/>
<rect x="216.32" y="696.66" width="14.20" height="155.34" fill="#000"/>
<rect x="230.72" y="688.69" width="12.10" height="163.31" fill="#55A0FC" stroke="#000" stroke-width="1.4"/>
<text transform="translate(234.32,874.00) rotate(-30)" font-size="15.5" text-anchor="end">eWAT</text>
<line x1="263.34999999999997" y1="810.9973333333332" x2="263.34999999999997" y2="815.2006666666666" stroke="#000" stroke-width="1.9" stroke-linecap="butt"/>
<line x1="259.34999999999997" y1="810.9973333333332" x2="267.34999999999997" y2="810.9973333333332" stroke="#000" stroke-width="1.9" stroke-linecap="butt"/>
<line x1="276.84999999999997" y1="808.3706" x2="276.84999999999997" y2="813.5349333333334" stroke="#000" stroke-width="1.9" stroke-linecap="butt"/>
<line x1="272.84999999999997" y1="808.3706" x2="280.84999999999997" y2="808.3706" stroke="#000" stroke-width="1.9" stroke-linecap="butt"/>
<rect x="256.40" y="813.90" width="14.20" height="38.10" fill="#000"/>
<rect x="270.80" y="813.23" width="12.10" height="38.77" fill="#55A0FC" stroke="#000" stroke-width="1.4"/>
<text transform="translate(274.40,874.00) rotate(-30)" font-size="15.5" text-anchor="end">Retroperitoneal Fat</text>
<line x1="303.43" y1="745.0086666666666" x2="303.43" y2="754.3373333333333" stroke="#000" stroke-width="1.9" stroke-linecap="butt"/>
<line x1="299.43" y1="745.0086666666666" x2="307.43" y2="745.0086666666666" stroke="#000" stroke-width="1.9" stroke-linecap="butt"/>
<line x1="316.93" y1="793.7633999999999" x2="316.93" y2="805.3344" stroke="#000" stroke-width="1.9" stroke-linecap="butt"/>
<line x1="312.93" y1="793.7633999999999" x2="320.93" y2="793.7633999999999" stroke="#000" stroke-width="1.9" stroke-linecap="butt"/>
<rect x="296.48" y="753.04" width="14.20" height="98.96" fill="#000"/>
<rect x="310.88" y="805.03" width="12.10" height="46.97" fill="#55A0FC" stroke="#000" stroke-width="1.4"/>
<text transform="translate(314.48,874.00) rotate(-30)" font-size="15.5" text-anchor="end">Mesenteric Fat</text>
<line x1="343.51" y1="688.9503333333333" x2="343.51" y2="700.5213333333334" stroke="#000" stroke-width="1.9" stroke-linecap="butt"/>
<line x1="339.51" y1="688.9503333333333" x2="347.51" y2="688.9503333333333" stroke="#000" stroke-width="1.9" stroke-linecap="butt"/>
<line x1="357.01" y1="746.6103333333333" x2="357.01" y2="759.783" stroke="#000" stroke-width="1.9" stroke-linecap="butt"/>
<line x1="353.01" y1="746.6103333333333" x2="361.01" y2="746.6103333333333" stroke="#000" stroke-width="1.9" stroke-linecap="butt"/>
<rect x="336.56" y="699.22" width="14.20" height="152.78" fill="#000"/>
<rect x="350.96" y="759.48" width="12.10" height="92.52" fill="#55A0FC" stroke="#000" stroke-width="1.4"/>
<text transform="translate(354.56,874.00) rotate(-30)" font-size="15.5" text-anchor="end">iWAT</text>
<line x1="50.7" y1="658.8499999999999" x2="50.7" y2="852.95" stroke="#000" stroke-width="1.9" stroke-linecap="butt"/>
<line x1="44.1" y1="852.0" x2="50.7" y2="852.0" stroke="#000" stroke-width="1.9" stroke-linecap="butt"/>
<text x="41.90" y="861.76" font-size="13.3" text-anchor="end">0</text>
<line x1="44.1" y1="787.9333333333333" x2="50.7" y2="787.9333333333333" stroke="#000" stroke-width="1.9" stroke-linecap="butt"/>
<text x="41.90" y="796.46" font-size="13.3" text-anchor="end">1</text>
<line x1="44.1" y1="723.8666666666667" x2="50.7" y2="723.8666666666667" stroke="#000" stroke-width="1.9" stroke-linecap="butt"/>
<text x="41.90" y="731.36" font-size="13.3" text-anchor="end">2</text>
<line x1="44.1" y1="659.8" x2="50.7" y2="659.8" stroke="#000" stroke-width="1.9" stroke-linecap="butt"/>
<text x="41.90" y="666.26" font-size="13.3" text-anchor="end">3</text>
<line x1="49.800000000000004" y1="852.0" x2="369.5" y2="852.0" stroke="#000" stroke-width="1.8" stroke-linecap="butt"/>
<rect x="59.10" y="668.40" width="18.60" height="12.40" fill="#000"/>
<rect x="59.80" y="686.20" width="17.20" height="11.00" fill="#55A0FC" stroke="#000" stroke-width="1.4"/>
<text x="84.2" y="679.4" font-size="18.3" text-anchor="start">ctrl</text>
<text x="84.2" y="697.2" font-size="18.3" text-anchor="start">sOE</text>
<text x="77.20" y="835.15" font-size="20.0" text-anchor="middle">*</text>
<text x="154.76" y="768.05" font-size="20.0" text-anchor="middle">*</text>
<text x="163.84" y="768.05" font-size="20.0" text-anchor="middle">*</text>
<text x="194.96" y="846.25" font-size="20.0" text-anchor="middle">*</text>
<text x="204.04" y="846.25" font-size="20.0" text-anchor="middle">*</text>
<text x="314.96" y="796.75" font-size="20.0" text-anchor="middle">*</text>
<text x="324.04" y="796.75" font-size="20.0" text-anchor="middle">*</text>
<text x="355.26" y="749.75" font-size="20.0" text-anchor="middle">*</text>
<text x="364.34" y="749.75" font-size="20.0" text-anchor="middle">*</text>
<text transform="translate(22.4,760.4) rotate(-90)" font-size="15.3" text-anchor="middle" textLength="118.4" lengthAdjust="spacingAndGlyphs">Tissue Weight (g)</text>
</g>
<g id="panel-f">
<text x="419.3" y="641.2" font-size="23.6" text-anchor="start" font-weight="bold">f</text>
<text x="497.0" y="651.0" font-size="21" text-anchor="start" textLength="155.5" lengthAdjust="spacingAndGlyphs">sOE HFD NMR</text>
<line x1="494.2" y1="699.4" x2="494.2" y2="703" stroke="#000" stroke-width="1.9" stroke-linecap="butt"/>
<line x1="483.95" y1="699.4" x2="504.45" y2="699.4" stroke="#000" stroke-width="1.9" stroke-linecap="butt"/>
<line x1="534.8" y1="710.4" x2="534.8" y2="713" stroke="#000" stroke-width="1.9" stroke-linecap="butt"/>
<line x1="524.55" y1="710.4" x2="545.05" y2="710.4" stroke="#000" stroke-width="1.9" stroke-linecap="butt"/>
<line x1="615.8" y1="703.7" x2="615.8" y2="713" stroke="#000" stroke-width="1.9" stroke-linecap="butt"/>
<line x1="605.55" y1="703.7" x2="626.05" y2="703.7" stroke="#000" stroke-width="1.9" stroke-linecap="butt"/>
<line x1="656.6" y1="761.7" x2="656.6" y2="771" stroke="#000" stroke-width="1.9" stroke-linecap="butt"/>
<line x1="646.35" y1="761.7" x2="666.85" y2="761.7" stroke="#000" stroke-width="1.9" stroke-linecap="butt"/>
<rect x="473.20" y="701.50" width="41.90" height="148.90" fill="#000"/>
<rect x="515.30" y="713.00" width="39.30" height="137.40" fill="#55A0FC" stroke="#000" stroke-width="1.4"/>
<rect x="594.70" y="711.50" width="42.20" height="138.90" fill="#000"/>
<rect x="637.10" y="771.00" width="39.20" height="79.40" fill="#55A0FC" stroke="#000" stroke-width="1.4"/>
<line x1="453.3" y1="670.15" x2="453.3" y2="851.35" stroke="#000" stroke-width="1.9" stroke-linecap="butt"/>
<line x1="448.0" y1="850.4" x2="453.3" y2="850.4" stroke="#000" stroke-width="1.9" stroke-linecap="butt"/>
<text x="445.90" y="856.56" font-size="13.3" text-anchor="end">0</text>
<line x1="448.0" y1="814.54" x2="453.3" y2="814.54" stroke="#000" stroke-width="1.9" stroke-linecap="butt"/>
<text x="445.90" y="820.70" font-size="13.3" text-anchor="end">5</text>
<line x1="448.0" y1="778.68" x2="453.3" y2="778.68" stroke="#000" stroke-width="1.9" stroke-linecap="butt"/>
<text x="445.90" y="784.84" font-size="13.3" text-anchor="end">10</text>
<line x1="448.0" y1="742.82" x2="453.3" y2="742.82" stroke="#000" stroke-width="1.9" stroke-linecap="butt"/>
<text x="445.90" y="748.98" font-size="13.3" text-anchor="end">15</text>
<line x1="448.0" y1="706.96" x2="453.3" y2="706.96" stroke="#000" stroke-width="1.9" stroke-linecap="butt"/>
<text x="445.90" y="713.12" font-size="13.3" text-anchor="end">20</text>
<line x1="448.0" y1="671.1" x2="453.3" y2="671.1" stroke="#000" stroke-width="1.9" stroke-linecap="butt"/>
<text x="445.90" y="677.26" font-size="13.3" text-anchor="end">25</text>
<line x1="452.40000000000003" y1="850.4" x2="696.0" y2="850.4" stroke="#000" stroke-width="1.8" stroke-linecap="butt"/>
<line x1="514.6" y1="850.4" x2="514.6" y2="855.3" stroke="#000" stroke-width="1.9" stroke-linecap="butt"/>
<line x1="636.4" y1="850.4" x2="636.4" y2="855.3" stroke="#000" stroke-width="1.9" stroke-linecap="butt"/>
<text x="534.80" y="712.95" font-size="20.0" text-anchor="middle">*</text>
<text x="647.92" y="765.25" font-size="20.0" text-anchor="middle">*</text>
<text x="657.00" y="765.25" font-size="20.0" text-anchor="middle">*</text>
<text x="666.08" y="765.25" font-size="20.0" text-anchor="middle">*</text>
<text x="517.0" y="878.7" font-size="17.8" text-anchor="middle" textLength="91" lengthAdjust="spacingAndGlyphs">Lean Mass</text>
<text x="638.3" y="878.7" font-size="17.8" text-anchor="middle" textLength="76.7" lengthAdjust="spacingAndGlyphs">Fat Mass</text>
<text transform="translate(422.3,765.6) rotate(-90)" font-size="15.3" text-anchor="middle" textLength="109.3" lengthAdjust="spacingAndGlyphs">Tissue Mass (g)</text>
</g>
</svg></body></html>
